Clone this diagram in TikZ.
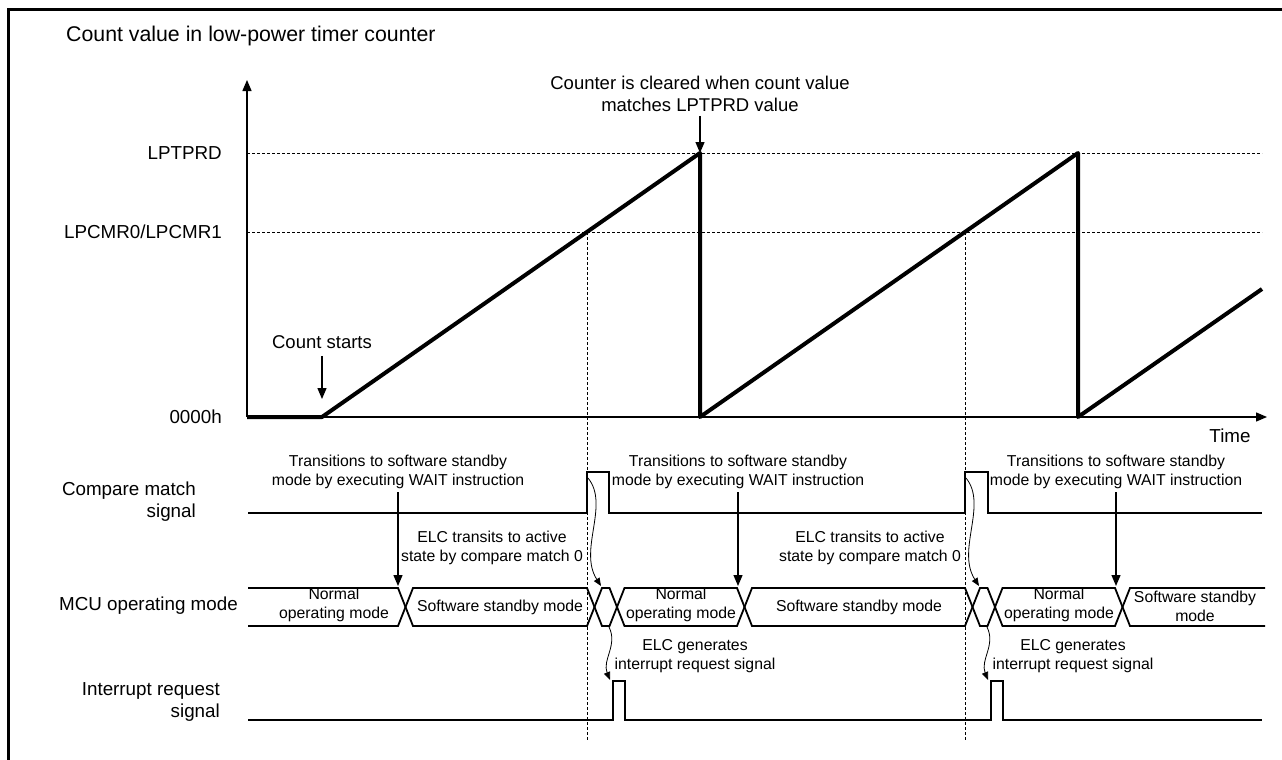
\documentclass[tikz,border=0pt]{standalone}
\usepackage{fontspec}
\setmainfont{Liberation Sans}
\usetikzlibrary{arrows.meta,positioning}
\tikzset{lbl/.style={font=\fontsize{18.8}{22}\selectfont,align=center,inner sep=0pt},note/.style={font=\fontsize{15.8}{19}\selectfont,align=center,inner sep=0pt},arr/.style={-{Triangle[length=11pt,width=9pt]},line width=1.3pt},wig/.style={-{Triangle[length=8pt,width=6.5pt]},line width=0.8pt}}
\begin{document}
\begin{tikzpicture}[x=1pt,y=-1pt,wave/.style={line width=1.8pt},saw/.style={line width=4pt,line join=round},guide/.style={densely dashed,line width=0.9pt}]
\useasboundingbox (0,0) rectangle (1282,760);
\draw[line width=3pt] (8,760)--(8,10)--(1282,10);
\coordinate (o) at (247,417);\coordinate (ytip) at (247,80);\coordinate (xtip) at (1267,417);
\node[lbl,anchor=west,font=\fontsize{21.3}{24}\selectfont] (ylab) at (66,36) {Count value in low-power timer counter};
\node[lbl] (time) at (1230,436) {Time};
\node[lbl,anchor=east] (prd) at (222,153) {LPTPRD};
\node[lbl,anchor=east] (cmr) at (222,232) {LPCMR0/LPCMR1};
\node[lbl,anchor=east] (zero) at (222,417) {0000h};
\coordinate (prdR) at (1262,153);\coordinate (cmrR) at (1262,232);
\draw[guide] (o|-prd)--(prdR);\draw[guide] (o|-cmr)--(cmrR);
\coordinate (cs) at (322,417);\coordinate (p1) at (700,153);\coordinate (z1) at (700,417);
\coordinate (p2) at (1078,153);\coordinate (z2) at (1078,417);\coordinate (e3) at (1262,289);
\coordinate (m1) at (587,232);\coordinate (m2) at (965,232);
\draw[guide] (m1)--(587,740);\draw[guide] (m2)--(965,740);
\draw[saw] (o)--(cs)--(p1)--(z1)--(p2)--(z2)--(e3);
\draw[arr] (o)--(ytip);\draw[arr] (o)--(xtip);
\node[lbl,font=\fontsize{18.5}{22}\selectfont] (start) at (322,342) {Count starts};
\coordinate (csa) at (322,399);
\draw[arr] (start.south)++(0,7)--(csa);
\node[lbl,font=\fontsize{18.5}{22}\selectfont] (clr) at (700,94) {Counter is cleared when count value\\matches LPTPRD value};
\draw[arr] (clr.south)++(0,4)--(p1);
\node[lbl,anchor=east,align=right] (cmp) at (196,502) {Compare match\\signal};
\node[lbl,anchor=east] (mcu) at (238,606) {MCU operating mode};
\node[lbl,anchor=east,align=right] (irq) at (220,702) {Interrupt request\\signal};
\draw[wave] (248,513)--(587,513)--(587,472)--(609,472)--(609,513)--(965,513)--(965,472)--(988,472)--(988,513)--(1262,513);
\draw[wave] (248,720)--(613,720)--(613,681)--(625,681)--(625,720)--(991,720)--(991,681)--(1003,681)--(1003,720)--(1262,720);
\draw[wave] (248,588)--(398,588)--(405.5,607)--(398,626)--(248,626);
\foreach \a/\b in {405.5/594.5,594.5/617,617/744.5,744.5/972.5,972.5/995,995/1122.5}
  \draw[wave] (\a,607)--(\a+7.5,588)--(\b-7.5,588)--(\b,607)--(\b-7.5,626)--(\a+7.5,626)--cycle;
\draw[wave] (1265,588)--(1130,588)--(1122.5,607)--(1130,626)--(1265,626);
\node[note] (n1) at (334,605) {Normal\\operating mode};
\node[note] (s1) at (500,607) {Software standby mode};
\node[note] (n2) at (681,605) {Normal\\operating mode};
\node[note] (s2) at (859,607) {Software standby mode};
\node[note] (n3) at (1059,605) {Normal\\operating mode};
\node[note] (s3) at (1195,606) {Software standby\\mode};
\coordinate (a1) at (398,586);\coordinate (a2) at (738,586);\coordinate (a3) at (1116,586);
\foreach \k in {1,2,3}
  \node[note] (w\k) at (a\k|-0,472) {Transitions to software standby\\mode by executing WAIT instruction};
\draw[arr] (w1.south-|a1)++(0,3)--(a1);\draw[arr] (w2.south-|a2)++(0,3)--(a2);\draw[arr] (w3.south-|a3)++(0,3)--(a3);
\node[note] (e1) at (492,548) {ELC transits to active\\state by compare match 0};
\node[note] (e2) at (870,548) {ELC transits to active\\state by compare match 0};
\node[note] (g1) at (695,656) {ELC generates\\interrupt request signal};
\node[note] (g2) at (1073,656) {ELC generates\\interrupt request signal};
\draw[wig] (588,478) .. controls (610,505) and (578,550) .. (601,586);
\draw[wig] (966,478) .. controls (988,505) and (956,550) .. (979,586);
\draw[wig] (609,627) .. controls (618,645) and (602,660) .. (610,680);
\draw[wig] (987,627) .. controls (996,645) and (980,660) .. (988,680);
\end{tikzpicture}
\end{document}
